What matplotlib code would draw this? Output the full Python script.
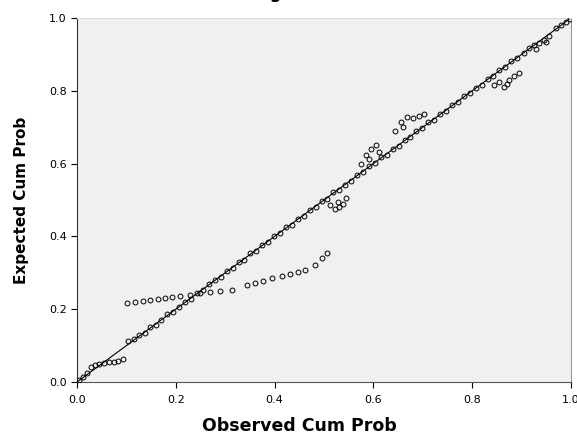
import matplotlib.pyplot as plt
import numpy as np

# observed / expected cumulative probabilities
obs_low = [0.004, 0.012, 0.020, 0.028, 0.036, 0.045, 0.054, 0.064, 0.074, 0.084, 0.094]
exp_low = [0.006, 0.014, 0.025, 0.040, 0.046, 0.050, 0.052, 0.054, 0.056, 0.058, 0.062]

obs_mid = [0.104, 0.115, 0.126, 0.137, 0.148, 0.160, 0.171, 0.183, 0.195, 0.207,
           0.219, 0.231, 0.243, 0.255, 0.267, 0.279, 0.291, 0.303, 0.315, 0.327,
           0.339, 0.351, 0.363, 0.375, 0.387, 0.399, 0.411, 0.423, 0.435, 0.447,
           0.459, 0.471, 0.483, 0.495, 0.507, 0.519, 0.531, 0.543]
exp_mid = [0.112, 0.118, 0.128, 0.134, 0.150, 0.158, 0.170, 0.186, 0.193, 0.205,
           0.221, 0.229, 0.245, 0.252, 0.268, 0.281, 0.288, 0.305, 0.312, 0.330,
           0.336, 0.354, 0.360, 0.377, 0.384, 0.401, 0.408, 0.425, 0.432, 0.449,
           0.455, 0.473, 0.480, 0.497, 0.503, 0.521, 0.527, 0.540]

obs_off = [0.101, 0.117, 0.134, 0.148, 0.164, 0.178, 0.192, 0.209, 0.229, 0.249,
           0.269, 0.290, 0.314, 0.344, 0.360, 0.376, 0.395, 0.415, 0.431, 0.447,
           0.462, 0.482, 0.496, 0.506]
exp_off = [0.217, 0.220, 0.223, 0.225, 0.228, 0.231, 0.234, 0.236, 0.239, 0.245,
           0.247, 0.250, 0.253, 0.267, 0.272, 0.277, 0.286, 0.291, 0.297, 0.302,
           0.308, 0.321, 0.341, 0.354]

obs_high = [0.512, 0.522, 0.530, 0.538, 0.545, 0.528,
            0.555, 0.567, 0.579, 0.591, 0.603, 0.615, 0.627, 0.639, 0.651, 0.663,
            0.675, 0.687, 0.699, 0.711, 0.723, 0.735, 0.747, 0.759, 0.771, 0.783,
            0.795, 0.807, 0.819, 0.831, 0.843, 0.855, 0.867, 0.879, 0.891,
            0.575, 0.585, 0.596, 0.605, 0.612, 0.592,
            0.643, 0.655, 0.668, 0.680, 0.692, 0.703, 0.660,
            0.845, 0.855, 0.865, 0.875, 0.885, 0.895, 0.870,
            0.905, 0.915, 0.925, 0.935, 0.945, 0.955, 0.930, 0.950,
            0.970, 0.980, 0.990, 0.998]
exp_high = [0.485, 0.475, 0.480, 0.490, 0.505, 0.495,
            0.553, 0.569, 0.577, 0.593, 0.601, 0.617, 0.625, 0.641, 0.649, 0.665,
            0.673, 0.689, 0.697, 0.713, 0.721, 0.737, 0.745, 0.761, 0.769, 0.785,
            0.793, 0.809, 0.817, 0.833, 0.841, 0.857, 0.865, 0.881, 0.889,
            0.600, 0.625, 0.640, 0.650, 0.632, 0.612,
            0.690, 0.715, 0.728, 0.725, 0.730, 0.735, 0.700,
            0.815, 0.825, 0.810, 0.830, 0.840, 0.850, 0.820,
            0.905, 0.918, 0.925, 0.930, 0.940, 0.950, 0.915, 0.935,
            0.972, 0.982, 0.990, 0.997]

obs = obs_low + obs_mid + obs_off + obs_high
exp = exp_low + exp_mid + exp_off + exp_high

ticks = [0.0, 0.2, 0.4, 0.6, 0.8, 1.0]

fig = plt.figure(figsize=(5.77, 4.42), dpi=100)
ax = fig.add_axes([0.1334, 0.1357, 0.8562, 0.8236])
ax.set_facecolor('#f0f0f0')

ax.plot([0, 1], [0, 1], color='black', lw=0.8, zorder=2)
ax.plot(obs, exp, 'o', mfc='none', mec='black', ms=3.5, mew=0.7, zorder=3)

ax.set_xlim(0, 1)
ax.set_ylim(0, 1)
ax.set_xticks(ticks)
ax.set_yticks(ticks)
ax.set_xticklabels(['%.1f' % t for t in ticks], size=8)
ax.set_yticklabels(['%.1f' % t for t in ticks], size=8)
ax.tick_params(direction='out', length=4, width=0.8)
ax.tick_params(axis='x', pad=5)

ax.spines['left'].set_color('#333333')
ax.spines['bottom'].set_color('#555555')
ax.spines['top'].set_color('#dddddd')
ax.spines['right'].set_color('#999999')

ax.set_xlabel('Observed Cum Prob', size=12.5, weight='bold', labelpad=10)
ax.xaxis.set_label_coords(0.45, -0.095)
ax.set_ylabel('Expected Cum Prob', size=11, weight='bold', labelpad=14)

# title sits above the canvas; only its descenders show at the top edge
fig.text(0.55, 1.004, 'Normal P-P Plot of Regression Standardized Residual',
         ha='center', va='baseline', size=12, weight='bold')

plt.savefig('out.png')
